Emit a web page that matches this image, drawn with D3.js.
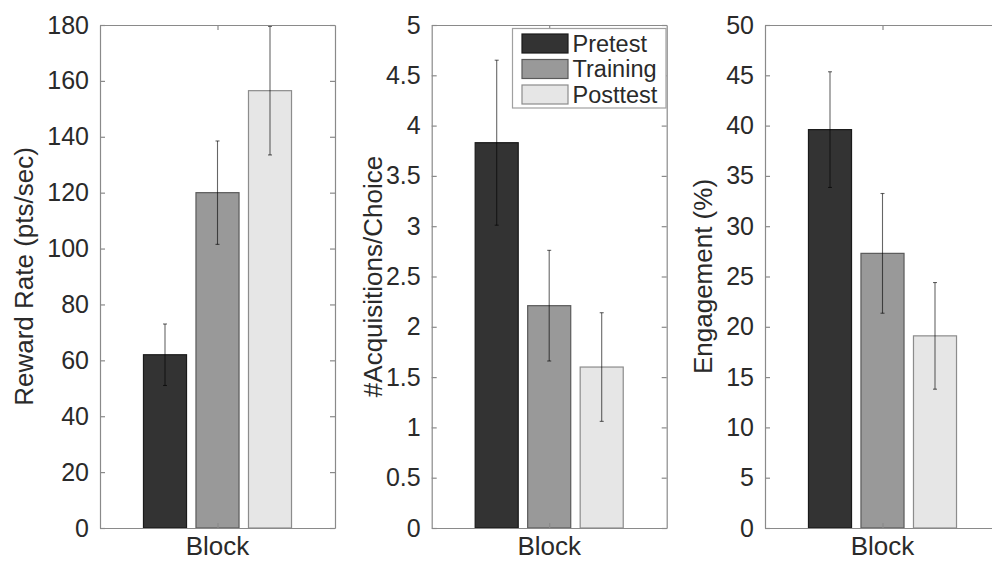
<!DOCTYPE html>
<html>
<head>
<meta charset="utf-8">
<script src="https://cdn.jsdelivr.net/npm/d3@7"></script>
<style>
  body { margin: 0; background: #fff; }
  svg { display: block; font-family: "Liberation Sans", Arial, sans-serif; }
</style>
</head>
<body>
<div id="chart"></div>
<script>
// Groups shown in every panel (also the legend entries)
const blocks = ["Pretest", "Training", "Posttest"];
const blockColors = ["#333333", "#999999", "#e6e6e6"];
const blockEdges = ["#1a1a1a", "#5a5a5a", "#8c8c8c"];

// Panel 1: reward rate
const rewardRate = [62, 120, 156.5];
const rewardErr = [11, 18.5, 23];
const rewardTicks = [0, 20, 40, 60, 80, 100, 120, 140, 160, 180];

// Panel 2: acquisitions per choice
const acquisitions = [3.83, 2.21, 1.6];
const acquisitionsErr = [0.82, 0.55, 0.54];
const acquisitionsTicks = [0, 0.5, 1, 1.5, 2, 2.5, 3, 3.5, 4, 4.5, 5];

// Panel 3: engagement
const engagement = [39.6, 27.3, 19.1];
const engagementErr = [5.75, 5.95, 5.3];
const engagementTicks = [0, 5, 10, 15, 20, 25, 30, 35, 40, 45, 50];

const xLabel = "Block";

const W = 992, H = 561;
const yTop = 25, yBottom = 528, axW = 235;

const panels = [
    { left: 100, values: rewardRate, errs: rewardErr, ticks: rewardTicks,
      label: "Reward Rate (pts/sec)", labelX: 33 },
    { left: 431.7, values: acquisitions, errs: acquisitionsErr, ticks: acquisitionsTicks,
      label: "#Acquisitions/Choice", labelX: 382, legend: true },
    { left: 765, values: engagement, errs: engagementErr, ticks: engagementTicks,
      label: "Engagement (%)", labelX: 712 }
];

const svg = d3.select("#chart")
    .append("svg")
    .attr("width", W)
    .attr("height", H);

const tickColor = "#8a8a8a";
const textColor = "#2a2a2a";

panels.forEach(p => {
    const g = svg.append("g");
    const x0 = p.left, x1 = p.left + axW, cx = (x0 + x1) / 2;
    const y = d3.scaleLinear()
        .domain([0, p.ticks[p.ticks.length - 1]])
        .range([yBottom, yTop]);
    const x = d3.scaleBand()
        .domain(blocks)
        .range([cx - 78.75, cx + 78.75])
        .paddingInner(0.18)
        .paddingOuter(0.09);

    // Bars
    g.selectAll("rect.bar")
        .data(p.values)
        .join("rect")
        .attr("class", "bar")
        .attr("x", (d, i) => x(blocks[i]))
        .attr("width", x.bandwidth())
        .attr("y", d => y(d))
        .attr("height", d => yBottom - y(d))
        .attr("fill", (d, i) => blockColors[i])
        .attr("stroke", (d, i) => blockEdges[i])
        .attr("stroke-width", 1.2);

    // Error bars
    const eb = g.selectAll("g.err")
        .data(p.values)
        .join("g")
        .attr("class", "err")
        .attr("stroke", "#000")
        .attr("stroke-width", 1.1)
        .attr("stroke-opacity", 0.6);
    const ex = i => x(blocks[i]) + x.bandwidth() / 2;
    eb.append("line")
        .attr("x1", (d, i) => ex(i)).attr("x2", (d, i) => ex(i))
        .attr("y1", (d, i) => y(d - p.errs[i]))
        .attr("y2", (d, i) => y(d + p.errs[i]));
    eb.append("line")
        .attr("x1", (d, i) => ex(i) - 2).attr("x2", (d, i) => ex(i) + 2)
        .attr("y1", (d, i) => y(d + p.errs[i]))
        .attr("y2", (d, i) => y(d + p.errs[i]));
    eb.append("line")
        .attr("x1", (d, i) => ex(i) - 2).attr("x2", (d, i) => ex(i) + 2)
        .attr("y1", (d, i) => y(d - p.errs[i]))
        .attr("y2", (d, i) => y(d - p.errs[i]));

    // Axes (ticks point inward, box all round)
    const fmt = d3.format("~g");
    const leftAxis = g.append("g")
        .attr("transform", `translate(${x0},0)`)
        .call(d3.axisLeft(y).tickValues(p.ticks).tickFormat(fmt)
            .tickSizeInner(-5).tickSizeOuter(0).tickPadding(11));
    g.append("g")
        .attr("transform", `translate(${x1},0)`)
        .call(d3.axisRight(y).tickValues(p.ticks).tickFormat("")
            .tickSizeInner(-5).tickSizeOuter(0));
    const xp = d3.scalePoint().domain([xLabel]).range([x0, x1]).padding(0.5);
    g.append("g")
        .attr("transform", `translate(0,${yBottom})`)
        .call(d3.axisBottom(xp).tickFormat("").tickSizeInner(-5).tickSizeOuter(0));
    g.append("g")
        .attr("transform", `translate(0,${yTop})`)
        .call(d3.axisTop(xp).tickFormat("").tickSizeInner(-5).tickSizeOuter(0));

    g.selectAll(".domain, .tick line")
        .attr("stroke", tickColor)
        .attr("stroke-width", 1.2);
    leftAxis.selectAll(".tick text")
        .attr("fill", textColor)
        .style("font-size", "25px")
        .style("font-family", "'Liberation Sans', Arial, sans-serif");

    // Block label
    g.append("text")
        .attr("x", cx)
        .attr("y", 555)
        .attr("text-anchor", "middle")
        .attr("fill", textColor)
        .style("font-size", "26px")
        .text(xLabel);

    // Y label
    g.append("text")
        .attr("transform", `translate(${p.labelX},${(yTop + yBottom) / 2}) rotate(-90)`)
        .attr("text-anchor", "middle")
        .attr("fill", textColor)
        .style("font-size", "26px")
        .text(p.label);

    if (p.legend) {
        const lg = g.append("g");
        lg.append("rect")
            .attr("x", 512.5).attr("y", 28.5)
            .attr("width", 153.5).attr("height", 79.5)
            .attr("fill", "#fff")
            .attr("stroke", "#a0a0a0")
            .attr("stroke-width", 1.2);
        const rowY = d3.scalePoint().domain(blocks).range([43.5, 94.5]);
        blocks.forEach((b, i) => {
            lg.append("rect")
                .attr("x", 522).attr("y", rowY(b) - 9.5)
                .attr("width", 46).attr("height", 19)
                .attr("fill", blockColors[i])
                .attr("stroke", blockEdges[i])
                .attr("stroke-width", 1.2);
            lg.append("text")
                .attr("x", 572.5).attr("y", rowY(b))
                .attr("dy", "0.35em")
                .attr("fill", textColor)
                .style("font-size", "23.5px")
                .text(b);
        });
    }
});
</script>
</body>
</html>
